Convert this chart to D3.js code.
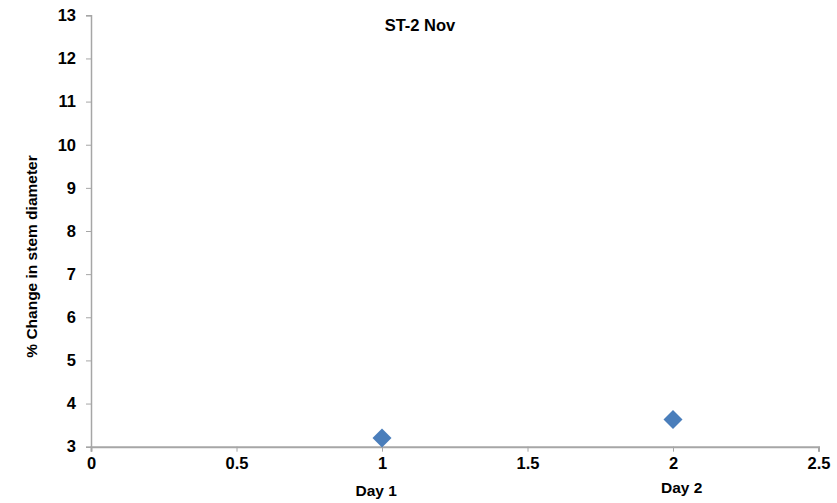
<!DOCTYPE html>
<html><head><meta charset="utf-8">
<script src="https://cdn.jsdelivr.net/npm/d3@7"></script>
<style>body{margin:0;background:#fff;} text{font-family:Arial,"Liberation Sans",sans-serif;font-weight:bold;fill:#000;}</style>
</head><body><svg id="c" width="837" height="503"></svg>
<script>
const xValues = [1, 2];
const yValues = [3.2, 3.63];
const xTicks = [0, 0.5, 1, 1.5, 2, 2.5];
const yTicks = [3,4,5,6,7,8,9,10,11,12,13];
const dayLabels = ["Day 1", "Day 2"];
const dayLabelX = [0.98, 2.03];
const title = "ST-2 Nov";
const yTitle = "% Change in stem diameter";

const svg = d3.select("#c");
const x = d3.scaleLinear().domain([0, 2.5]).range([91, 818.5]);
const y = d3.scaleLinear().domain([3, 13]).range([446.7, 15.3]);
const axisColor = "#a6a6a6";

const gx = svg.append("g").attr("transform", `translate(0,${y(3)})`)
  .call(d3.axisBottom(x).tickValues(xTicks).tickSize(5).tickPadding(6).tickFormat(d3.format("")));
const gy = svg.append("g").attr("transform", `translate(${x(0)},0)`)
  .call(d3.axisLeft(y).tickValues(yTicks).tickSize(5).tickPadding(10).tickFormat(d3.format("")));
[gx, gy].forEach(g => {
  g.attr("font-size", null).attr("font-family", null);
  g.select(".domain").attr("stroke", axisColor).attr("stroke-width", 1.5);
  g.selectAll(".tick line").attr("stroke", axisColor).attr("stroke-width", 1);
  g.selectAll(".tick text").style("font-size", "16.5px").style("font-weight", "bold").attr("fill", "#000");
});
gx.select(".domain").attr("stroke-width", 2);

svg.append("g").selectAll("path").data(xValues).join("path")
  .attr("d", d3.symbol(d3.symbolDiamond2 || d3.symbolDiamond, 230))
  .attr("transform", (d, i) => `translate(${x(d)},${y(yValues[i])})`)
  .attr("fill", "#4a7ebb");

svg.append("g").selectAll("text").data(dayLabels).join("text")
  .attr("x", (d, i) => x(dayLabelX[i]))
  .attr("y", (d, i) => i === 0 ? 496 : 493)
  .attr("text-anchor", "middle").style("font-size", "15.5px").text(d => d);

svg.append("text").attr("x", 420).attr("y", 31).attr("text-anchor", "middle")
  .style("font-size", "16.5px").text(title);

svg.append("text").attr("transform", "translate(37,256.5) rotate(-90)")
  .attr("text-anchor", "middle").style("font-size", "15.5px").text(yTitle);
</script></body></html>
